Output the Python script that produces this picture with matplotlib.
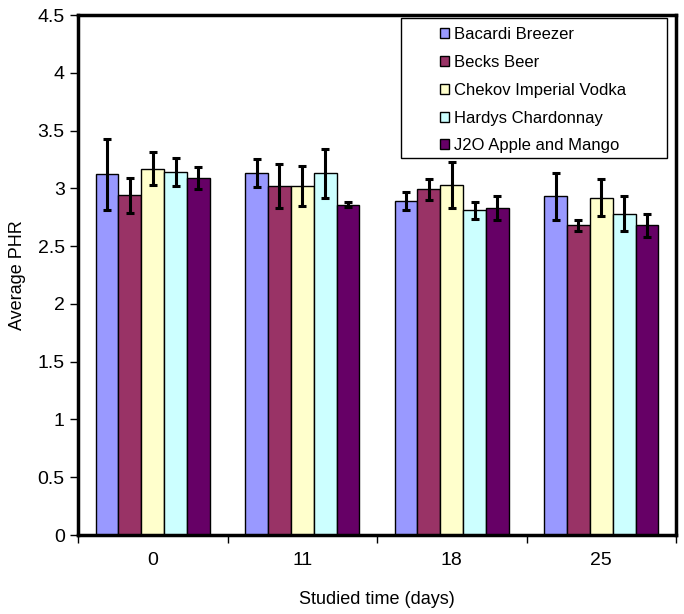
import numpy as np
import matplotlib.pyplot as plt
from matplotlib.patches import Rectangle

plt.rcParams['font.family'] = ['Liberation Sans', 'DejaVu Sans']

days = ["0", "11", "18", "25"]
drinks = ["Bacardi Breezer", "Becks Beer", "Chekov Imperial Vodka",
          "Hardys Chardonnay", "J2O Apple and Mango"]

bacardi = [3.12, 3.13, 2.89, 2.93]
becks = [2.94, 3.02, 2.99, 2.68]
chekov = [3.17, 3.02, 3.03, 2.92]
hardys = [3.14, 3.13, 2.81, 2.78]
j2o = [3.09, 2.86, 2.83, 2.68]

bacardi_err = [0.31, 0.12, 0.08, 0.20]
becks_err = [0.15, 0.19, 0.09, 0.05]
chekov_err = [0.145, 0.17, 0.20, 0.16]
hardys_err = [0.12, 0.21, 0.075, 0.15]
j2o_err = [0.095, 0.02, 0.10, 0.10]

values = [bacardi, becks, chekov, hardys, j2o]
errors = [bacardi_err, becks_err, chekov_err, hardys_err, j2o_err]
colors = ["#9999FF", "#993366", "#FFFFCC", "#CCFFFF", "#660066"]

fig = plt.figure(figsize=(6.84, 6.14), dpi=100)
ax = fig.add_axes([78/684, 1 - 535/614, 598/684, 520/614])

x = np.arange(len(days))
w = 0.153
for i, (v, e, c, name) in enumerate(zip(values, errors, colors, drinks)):
    pos = x + (i - 2) * w
    ax.bar(pos, v, width=w, color=c, edgecolor="black", linewidth=1, label=name)
    ax.errorbar(pos, v, yerr=e, fmt="none", ecolor="black", elinewidth=2.2,
                capsize=3, capthick=2.2)

ax.set_xlim(-0.5, 3.5)
ax.set_ylim(0, 4.5)
ax.set_yticks(np.arange(0, 4.51, 0.5))
ax.set_yticklabels(["0", "0.5", "1", "1.5", "2", "2.5", "3", "3.5", "4", "4.5"])
ax.set_xticks(x)
ax.set_xticklabels(days)
ax.set_xticks(np.arange(-0.5, 3.6, 1), minor=True)
ax.tick_params(axis="x", which="major", length=0, pad=12, labelsize=14)
ax.tick_params(axis="x", which="minor", length=6, width=1)
ax.tick_params(axis="y", length=6, width=1, labelsize=14)

for s in ax.spines.values():
    s.set_linewidth(2.5)

ax.set_xlabel("Studied time (days)", fontsize=13, labelpad=16)
ax.set_ylabel("Average PHR", fontsize=13, labelpad=8)

# legend box drawn separately, Excel style with wide margins
ax.add_patch(Rectangle((401/684, 1 - 158/614), 266/684, 140/614,
                       transform=fig.transFigure, facecolor="white",
                       edgecolor="black", linewidth=1, zorder=4.5,
                       clip_on=False))
leg = ax.legend(loc="upper left", bbox_to_anchor=(440/684, 1 - 27/614),
                bbox_transform=fig.transFigure, fontsize=12, frameon=False,
                handlelength=0.55, handleheight=0.55, handletextpad=0.3,
                labelspacing=0.77, borderpad=0.0, borderaxespad=0)
leg.set_zorder(6)

plt.savefig("out.png", dpi=100)
